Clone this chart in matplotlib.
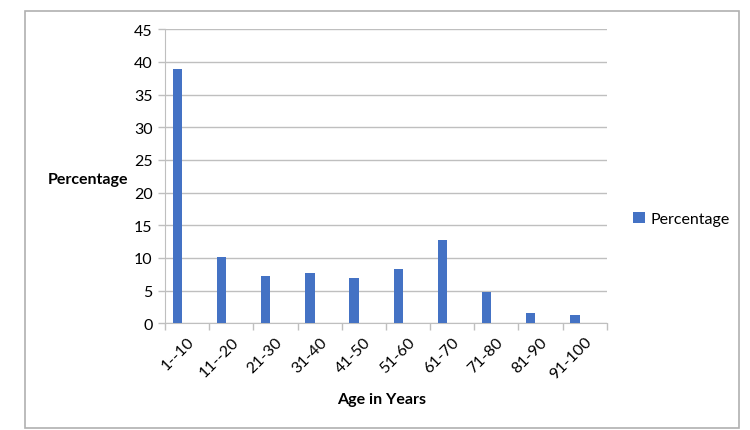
import numpy as np
import matplotlib.pyplot as plt
from matplotlib.patches import Rectangle

# data
age_groups = ["1--10", "11--20", "21-30", "31-40", "41-50", "51-60",
              "61-70", "71-80", "81-90", "91-100"]
percentage = [39.0, 10.15, 7.25, 7.65, 6.95, 8.25, 12.75, 4.75, 1.55, 1.3]

plt.rcParams['font.family'] = ['Lato', 'DejaVu Sans']

fig = plt.figure(figsize=(7.5, 4.31), dpi=100)
W, H = 750, 431
ax = fig.add_axes([165/W, 1-324.3/H, (606.7-165)/W, (324.3-30.3)/H])

x = np.arange(len(age_groups))
ax.bar(x - 0.22, percentage, width=0.21, color="#4472C4", label="Percentage", zorder=3)

ax.set_xlim(-0.5, len(age_groups) - 0.5)
ax.set_ylim(0, 45)
ax.set_yticks(np.arange(0, 46, 5))
ax.set_xticks(x)
ax.set_xticklabels(age_groups, rotation=45, ha='right', rotation_mode='anchor', fontsize=11.5)
ax.set_xticks(np.arange(-0.5, len(age_groups)), minor=True)
ax.tick_params(axis='x', which='major', length=0, pad=8)
ax.tick_params(axis='x', which='minor', length=5, color="#bfbfbf", width=1)
ax.tick_params(axis='y', length=5, color="#bfbfbf", width=1, labelsize=11.5, pad=4)
ax.grid(axis='y', color="#bfbfbf", linewidth=1, zorder=0)

for s in ['top', 'right']:
    ax.spines[s].set_visible(False)
for s in ['left', 'bottom']:
    ax.spines[s].set_color("#bfbfbf")

fig.text(88/W, 1-180/H, "Percentage", fontsize=11.5, fontweight='bold', ha='center', va='center')
fig.text(382/W, 1-400/H, "Age in Years", fontsize=11.5, fontweight='bold', ha='center', va='center')

ax.legend(loc='center left', bbox_to_anchor=(619/W, 1-220/H), bbox_transform=fig.transFigure,
          frameon=False, fontsize=11.5, handlelength=0.7, handleheight=0.7, handletextpad=0.4)

fig.patches.append(Rectangle((25/W, 1-429/H), (739-25)/W, (429-12)/H, transform=fig.transFigure,
                             fill=False, edgecolor="#b0b0b0", linewidth=1.2))

fig.savefig("out.png", dpi=100)
